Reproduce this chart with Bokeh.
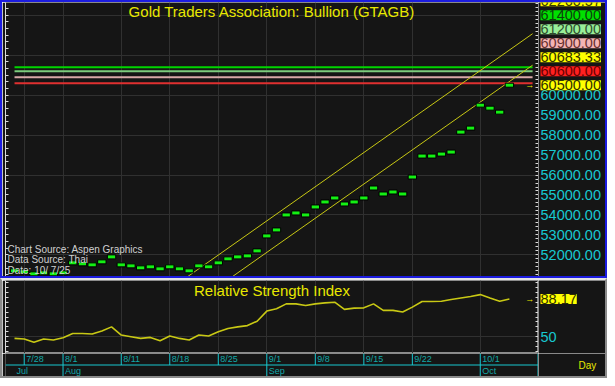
import pandas as pd
from bokeh.plotting import figure
from bokeh.layouts import column, row
from bokeh.models import (ColumnDataSource, Range1d, LinearAxis, FixedTicker,
                          Label, Span)
from bokeh.core.properties import value
from bokeh.embed import file_html
from bokeh.resources import INLINE

# ---------------- data ----------------
dates = [f"{d.month}/{d.day}" for d in pd.bdate_range("2025-07-25", "2025-10-06")]

close = [51200, 51150, 51050, 51100, 51050, 51100, 51600, 51550, 51500, 51650,
         51900, 51500, 51450, 51350, 51400, 51300, 51400, 51300, 51200, 51450,
         51400, 51600, 51800, 51900, 51950, 52200, 52950, 53250, 54000, 54100,
         54000, 54400, 54650, 54850, 54550, 54650, 54850, 55350, 55050, 55150,
         55050, 55900, 56950, 56950, 57050, 57150, 58150, 58350, 59500, 59350,
         59150, 60500]

rsi = [48.3, 47.7, 44.3, 47.7, 46.7, 49.0, 53.3, 53.3, 52.7, 55.7,
       60.0, 51.7, 50.0, 48.3, 49.3, 46.0, 50.7, 48.3, 46.7, 51.7,
       50.7, 55.0, 58.3, 60.0, 61.3, 65.7, 76.0, 78.3, 83.3, 83.3,
       81.7, 83.3, 84.3, 85.0, 77.7, 79.0, 79.3, 83.3, 76.7, 76.7,
       75.0, 80.0, 85.7, 85.7, 86.0, 87.7, 89.3, 90.7, 92.7, 89.3,
       86.0, 88.17]

level_values = [61400, 61200, 60900, 60600]
level_colors = ["#00d400", "#7ccc7c", "#d8a8a8", "#e03030"]

channel_slope = 342.3          # per bar
channel_lower_last = 60683.33
channel_upper_last = 62260.57

price_ticks = [52000, 53000, 54000, 55000, 56000, 57000, 58000, 59000, 60000]
rsi_ticks = [50]
day_ticks = ["7/28", "8/1", "8/11", "8/18", "8/25", "9/1", "9/8", "9/15", "9/22", "10/1"]
month_labels = ["Jul", "Aug", "Sep", "Oct"]
month_starts = ["7/25", "8/1", "9/1", "10/1"]

title_text = "Gold Traders Association: Bullion (GTAGB)"
rsi_title = "Relative Strength Index"
source_lines = ["Chart Source: Aspen Graphics", "Data Source: Thai", "Date: 10/ 7/25"]

# ---------------- styling / layout ----------------
BG = "#151515"
GRID = "#303030"
FONT = "Liberation Sans"
YELLOW = "#e8e800"
LINE_Y = "#c8c814"
CYAN = "#18c8d0"
TEAL = "#12a8a8"
WHITE = "#dcdcdc"

n = len(dates)
xi = list(range(n))
pos = {d: i for i, d in enumerate(dates)}
last = n - 1

X0, X1 = -0.93, 54.0
PY0, PY1 = 50917, 64642
RY0, RY1 = 33, 107
proj_end = 53.39
BL = 3
MAIN_W = 536
SIDE_W = 67
TOP_H, RSI_H, DATE_H = 274, 73, 23
ppx = (PY1 - PY0) / TOP_H          # price per screen pixel
SCALE_FS = "14.5px"

common = dict(output_backend="svg", toolbar_location=None,
              x_axis_location=None, y_axis_location=None,
              background_fill_color=BG, border_fill_color=BG,
              min_border_top=0, min_border_bottom=0)

def side_fig(h, yr):
    f = figure(width=SIDE_W, height=h, x_range=Range1d(0, 1), y_range=yr,
               outline_line_color=None, min_border_left=0, min_border_right=0, **common)
    f.grid.visible = False
    return f

# ---------------- top (price) panel ----------------
xr = Range1d(X0, X1)
pyr = Range1d(PY0, PY1)
top = figure(width=MAIN_W, height=TOP_H, x_range=xr, y_range=pyr,
             outline_line_color=None, min_border_left=BL, min_border_right=0, **common)
top.xgrid.ticker = FixedTicker(ticks=[pos[d] for d in day_ticks])
top.ygrid.ticker = FixedTicker(ticks=list(range(52000, 64001, 2000)))
top.grid.grid_line_color = GRID

lvl = ColumnDataSource(dict(x0=[0] * len(level_values), x1=[proj_end] * len(level_values),
                            y=level_values, c=level_colors))
top.segment(x0="x0", y0="y", x1="x1", y1="y", line_color="c", line_width=2, source=lvl)

cx = [0, proj_end]
top.line(cx, [channel_upper_last + channel_slope * (x - last) for x in cx],
         line_color=LINE_Y, line_width=1)
top.line(cx, [channel_lower_last + channel_slope * (x - last) for x in cx],
         line_color=LINE_Y, line_width=1)

top.rect(x=xi, y=close, width=0.86, height=4, height_units="screen",
         fill_color="#14f014", line_color="#000000", line_width=1)

top.text(x=[X1 - 0.9], y=[close[-1]], text=["→"], text_font_size="9px",
         text_color=YELLOW, text_baseline="middle", text_align="center")

left_ax = LinearAxis(ticker=FixedTicker(ticks=[], minor_ticks=[51000 + k * 1000 / 3 for k in range(42)]),
                     axis_line_color=WHITE, minor_tick_line_color=WHITE,
                     minor_tick_in=3, minor_tick_out=0, major_tick_out=0, major_label_standoff=0)
top.add_layout(left_ax, "left")
right_ax = LinearAxis(ticker=FixedTicker(ticks=[], minor_ticks=[51000 + k * 200 for k in range(69)]),
                      axis_line_color=WHITE, minor_tick_line_color=WHITE,
                      minor_tick_in=3, minor_tick_out=0, major_tick_out=0, major_label_standoff=0)
top.add_layout(right_ax, "right")

top.add_layout(Label(x=(X0 + X1) / 2, y=PY1 - 9 * ppx, text=title_text,
                     text_align="center", text_baseline="middle", text_color=YELLOW,
                     text_font=FONT, text_font_size="15px"))

for k, line in enumerate(source_lines):
    top.add_layout(Label(x=X0, x_offset=2, y=PY0 + (27.5 - 10.8 * k) * ppx, text=line,
                         text_align="left", text_baseline="middle", text_color="#d0d0d0",
                         text_font=FONT, text_font_size="10px"))

# price scale column (labels + stacked value boxes)
tside = side_fig(TOP_H, pyr)
tside.text(x=[0] * len(price_ticks), y=price_ticks, text=[f"{v:.2f}" for v in price_ticks],
           x_offset=2, text_align="left", text_baseline="middle", text_color=CYAN,
           text_font=value(FONT), text_font_size=SCALE_FS)

box_values = [channel_upper_last, 61400, 61200, 60900, channel_lower_last, 60600, close[-1]]
box_fill = ["#ffff00", "#00e000", "#98ee98", "#f4b4b4", "#ffff00", "#ff2020", "#ffff00"]
box_text = ["#3a3a00", "#0d420d", "#2e4e2e", "#683030", "#303000", "#6a0000", "#303000"]
order = sorted(range(len(box_values)), key=lambda j: box_values[j])
gap = 14.0 * ppx
ypos = {}
prev = None
for j in order:
    y = box_values[j] if prev is None else max(box_values[j], prev + gap)
    ypos[j] = y
    prev = y
for j in sorted(order, key=lambda j: -ypos[j]):
    tside.add_layout(Label(x=0, x_offset=2, y=ypos[j], text=f"{box_values[j]:.2f}",
                           text_align="left", text_baseline="middle", text_color=box_text[j],
                           text_font=FONT, text_font_size=SCALE_FS,
                           background_fill_color=box_fill[j], background_fill_alpha=1.0))

# ---------------- RSI panel ----------------
ryr = Range1d(RY0, RY1)
rfig = figure(width=MAIN_W, height=RSI_H, x_range=xr, y_range=ryr,
              outline_line_color="#8c8c8c", outline_line_width=1,
              min_border_left=BL, min_border_right=0, **common)
rfig.xgrid.ticker = FixedTicker(ticks=[pos[d] for d in day_ticks])
rfig.ygrid.ticker = FixedTicker(ticks=rsi_ticks)
rfig.grid.grid_line_color = GRID
rfig.line(xi, rsi, line_color=LINE_Y, line_width=1.6)
rfig.text(x=[X1 - 0.9], y=[rsi[-1]], text=["→"], text_font_size="9px",
          text_color=YELLOW, text_baseline="middle", text_align="center")

rl = LinearAxis(ticker=FixedTicker(ticks=[], minor_ticks=list(range(35, 106, 5))),
                axis_line_color=WHITE, minor_tick_line_color=WHITE,
                minor_tick_in=3, minor_tick_out=0, major_tick_out=0, major_label_standoff=0)
rfig.add_layout(rl, "left")
rr = LinearAxis(ticker=FixedTicker(ticks=[], minor_ticks=list(range(35, 106, 5))),
                axis_line_color=WHITE, minor_tick_line_color=WHITE,
                minor_tick_in=3, minor_tick_out=0, major_tick_out=0, major_label_standoff=0)
rfig.add_layout(rr, "right")
rfig.add_layout(Label(x=(X0 + X1) / 2, y=97, text=rsi_title, text_align="center",
                      text_baseline="middle", text_color=YELLOW, text_font=FONT,
                      text_font_size="15px"))

rside = side_fig(RSI_H, ryr)
rside.text(x=[0] * len(rsi_ticks), y=rsi_ticks, text=[str(v) for v in rsi_ticks],
           x_offset=2, text_align="left", text_baseline="middle", text_color=CYAN,
           text_font=value(FONT), text_font_size=SCALE_FS)
rside.add_layout(Label(x=0, x_offset=2, y=rsi[-1], text=f"{rsi[-1]:.2f}", text_align="left",
                       text_baseline="middle", text_color="#303000", text_font=FONT,
                       text_font_size=SCALE_FS, background_fill_color="#ffff00",
                       background_fill_alpha=1.0))

# ---------------- date axis ----------------
dyr = Range1d(0, 2)
dfig = figure(width=MAIN_W, height=DATE_H, x_range=xr, y_range=dyr,
              outline_line_color=None, min_border_left=BL, min_border_right=0, **common)
dfig.grid.visible = False
dpos = [pos[d] for d in day_ticks]
dfig.segment(x0=dpos, y0=[1] * len(dpos), x1=dpos, y1=[2] * len(dpos), line_color=CYAN)
dfig.text(x=dpos, y=[1.5] * len(dpos), text=day_ticks, x_offset=2, text_align="left",
          text_baseline="middle", text_color=TEAL, text_font_size="9px",
          text_font=value(FONT))
mpos = [pos[d] for d in month_starts]
dfig.segment(x0=mpos[1:], y0=[0] * (len(mpos) - 1), x1=mpos[1:], y1=[1] * (len(mpos) - 1),
             line_color=CYAN)
dfig.text(x=mpos, y=[0.5] * len(mpos), text=month_labels, x_offset=2, text_align="left",
          text_baseline="middle", text_color=TEAL, text_font_size="9px",
          text_font=value(FONT))
dfig.add_layout(Span(location=1, dimension="width", line_color=CYAN, line_width=1))
dfig.add_layout(Span(location=X1, dimension="height", line_color=CYAN, line_width=2))

dside = side_fig(DATE_H, dyr)
dside.text(x=[0], y=[1.0], text=["Day"], x_offset=40, text_align="left",
           text_baseline="middle", text_color=YELLOW, text_font=value(FONT),
           text_font_size="10px")

top_wrap = column(row(top, tside), styles={"border": "2px solid #1c1ce0"})
bot_wrap = column(row(rfig, rside), row(dfig, dside),
                  styles={"border": "2px solid #8a8a8a", "border-top": "2px solid #e4e4e4"})
layout = column(top_wrap, bot_wrap)

open("out.html", "w").write(file_html(layout, INLINE))
